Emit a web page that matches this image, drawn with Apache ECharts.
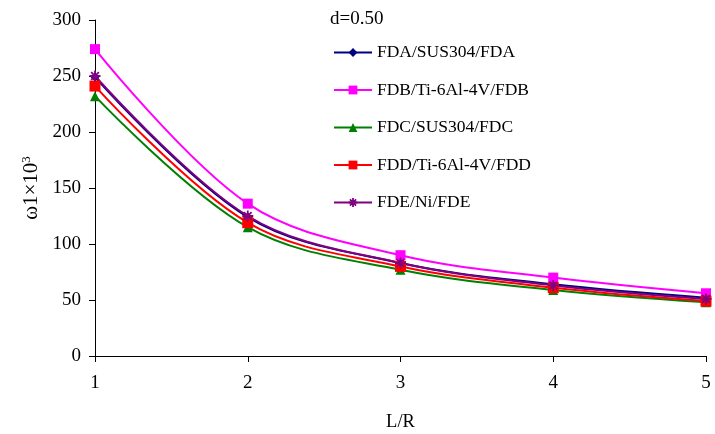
<!DOCTYPE html>
<html><head><meta charset="utf-8">
<script src="https://cdn.jsdelivr.net/npm/echarts@6/dist/echarts.min.js"></script>
<style>html,body{margin:0;padding:0;background:#fff}#c{width:715px;height:434px}</style>
</head><body><div id="c"></div>
<script>
const xValues = [1, 2, 3, 4, 5];
const seriesNames = ['FDA/SUS304/FDA', 'FDB/Ti-6Al-4V/FDB', 'FDC/SUS304/FDC', 'FDD/Ti-6Al-4V/FDD', 'FDE/Ni/FDE'];
const fdaValues = [249, 124, 83, 64, 52];
const fdbValues = [274, 136, 90, 70, 56];
const fdcValues = [232, 115, 77, 59, 48];
const fddValues = [241, 119, 80, 61, 49];
const fdeValues = [250, 125, 83, 63, 51];
const yTicks = [0, 50, 100, 150, 200, 250, 300];

const colors = ['#000080', '#FF00FF', '#008000', '#FF0000', '#800080'];
const symbols = ['diamond', 'rect', 'triangle', 'rect',
  'path://M0,5L10,5M5,0L5,10M1.5,1.5L8.5,8.5M8.5,1.5L1.5,8.5'];
const sizes = [9, 10, 10, 11, 11];
const allValues = [fdaValues, fdbValues, fdcValues, fddValues, fdeValues];
const font = '"Liberation Serif", "Times New Roman", serif';

const series = seriesNames.map((n, i) => ({
  name: n, type: 'line', smooth: 0.35,
  data: xValues.map((x, j) => [x, allValues[i][j]]),
  symbol: symbols[i], symbolSize: sizes[i],
  lineStyle: { color: colors[i], width: 2 },
  itemStyle: i === 4 ? { color: 'transparent', borderColor: colors[i], borderWidth: 1.8 } : { color: colors[i] },
  emphasis: { disabled: true }
}));

const chart = echarts.init(document.getElementById('c'));
chart.setOption({
  animation: false,
  backgroundColor: '#fff',
  title: { text: 'd=0.50', left: 325, top: 5, textStyle: { fontFamily: font, fontSize: 19, fontWeight: 'normal', color: '#000' } },
  legend: {
    orient: 'vertical', left: 333, top: 43.5, padding: 0, itemWidth: 38, itemHeight: 11, itemGap: 19.5,
    textStyle: { fontFamily: font, fontSize: 17.5, color: '#000' },
    data: seriesNames.map((n, i) => ({ name: n, itemStyle: i === 4 ? { color: 'transparent', borderColor: colors[i], borderWidth: 1.8 } : undefined }))
  },
  grid: { left: 95, right: 9, top: 20, bottom: 78, outerBoundsMode: 'none', containLabel: false },
  xAxis: {
    type: 'value', min: 1, max: 5, interval: 1,
    name: 'L/R', nameLocation: 'middle', nameGap: 57,
    nameTextStyle: { fontFamily: font, fontSize: 18.5, color: '#000' },
    axisLine: { lineStyle: { color: '#000', width: 1 } },
    axisTick: { show: true, length: 6, lineStyle: { color: '#000' } },
    axisLabel: { fontFamily: font, fontSize: 19, color: '#000', margin: 18 },
    splitLine: { show: false }
  },
  yAxis: {
    type: 'value', min: yTicks[0], max: yTicks[yTicks.length - 1], interval: 50,
    name: '{a|ω1×10}{s|3}', nameLocation: 'middle', nameGap: 49, nameRotate: 90,
    nameTextStyle: { fontFamily: font, color: '#000', rich: {
      a: { fontFamily: font, fontSize: 21, color: '#000' },
      s: { fontFamily: font, fontSize: 13, color: '#000', verticalAlign: 'top', padding: [0, 0, 10, 0] } } },
    axisLine: { show: true, lineStyle: { color: '#000', width: 1 } },
    axisTick: { show: true, length: 6, lineStyle: { color: '#000' } },
    axisLabel: { fontFamily: font, fontSize: 19, color: '#000', margin: 14 },
    splitLine: { show: false }
  },
  series: series
});
</script></body></html>
